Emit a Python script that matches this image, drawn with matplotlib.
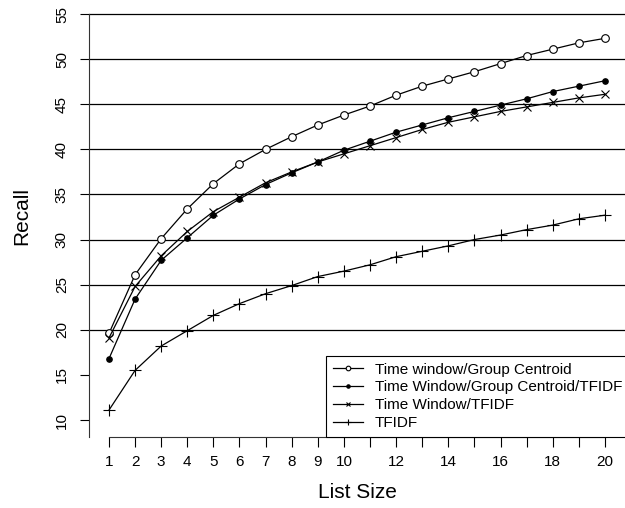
import matplotlib
matplotlib.use('Agg')
import matplotlib.pyplot as plt

plt.rcParams['font.family'] = ['Liberation Sans', 'DejaVu Sans']

list_size = list(range(1, 21))
tw_centroid = [19.6, 26.1, 30.1, 33.4, 36.2, 38.4, 40.0, 41.4, 42.7, 43.8,
               44.8, 46.0, 47.0, 47.8, 48.6, 49.5, 50.4, 51.1, 51.8, 52.3]
tw_centroid_tfidf = [16.8, 23.4, 27.7, 30.2, 32.7, 34.5, 36.1, 37.4, 38.6, 39.9,
                     40.9, 41.9, 42.7, 43.5, 44.2, 44.9, 45.6, 46.4, 47.0, 47.6]
tw_tfidf = [19.1, 24.8, 28.2, 30.9, 33.1, 34.7, 36.3, 37.5, 38.6, 39.5,
            40.4, 41.3, 42.2, 43.0, 43.6, 44.2, 44.7, 45.2, 45.7, 46.1]
tfidf = [11.1, 15.5, 18.2, 19.9, 21.6, 22.9, 24.0, 24.9, 25.9, 26.5,
         27.2, 28.1, 28.7, 29.3, 30.0, 30.5, 31.1, 31.6, 32.3, 32.7]
labels = ['Time window/Group Centroid', 'Time Window/Group Centroid/TFIDF',
          'Time Window/TFIDF', 'TFIDF']

fig = plt.figure(figsize=(6.25, 5.08), dpi=100)
ax = fig.add_axes([89/625, 71/508, 536/625, 423/508])

# horizontal reference lines
for h in range(20, 60, 5):
    ax.axhline(h, color='black', lw=0.9, zorder=1, clip_on=False)

ax.plot(list_size, tw_centroid, '-o', color='black', lw=0.9, ms=5.5,
        mfc='white', mec='black', mew=0.8, label=labels[0])
ax.plot(list_size, tw_centroid_tfidf, '-o', color='black', lw=0.9, ms=3.8,
        mfc='black', mec='black', label=labels[1])
ax.plot(list_size, tw_tfidf, '-x', color='black', lw=0.9, ms=6,
        mew=0.8, label=labels[2])
ax.plot(list_size, tfidf, '-+', color='black', lw=0.9, ms=8,
        mew=0.8, label=labels[3])

ax.set_xlim(0.234, 20.77)
ax.set_ylim(8.116, 55)

ax.spines['top'].set_visible(False)
ax.spines['right'].set_visible(False)
ax.spines['bottom'].set_bounds(1, 20)
ax.spines['bottom'].set_color('#333333')
ax.spines['left'].set_color('#333333')

ax.set_xticks(list_size)
ax.set_xticklabels([str(i) if (i <= 10 or i % 2 == 0) else '' for i in list_size])
ax.set_yticks(range(10, 60, 5))
ax.tick_params(axis='x', length=7, width=0.8, pad=6, labelsize=11)
ax.tick_params(axis='y', length=6.5, width=0.8, pad=8, labelsize=11)
for t in ax.get_yticklabels():
    t.set_rotation(90)
    t.set_va('center')

fig.text(357/625, 1 - 493/508, 'List Size', ha='center', va='center', fontsize=15)
fig.text(22/625, 1 - 216/508, 'Recall', ha='center', va='center',
         rotation=90, fontsize=15)

leg = ax.legend(loc='lower left', bbox_to_anchor=(326/625, 71/508),
                bbox_transform=fig.transFigure, fontsize=11, frameon=True,
                fancybox=False, framealpha=1, edgecolor='black',
                borderaxespad=0, borderpad=0.45, labelspacing=0.25,
                handlelength=2.0, handletextpad=0.75, markerscale=0.6)
leg.get_frame().set_linewidth(0.8)

fig.savefig('out.png', dpi=100)
